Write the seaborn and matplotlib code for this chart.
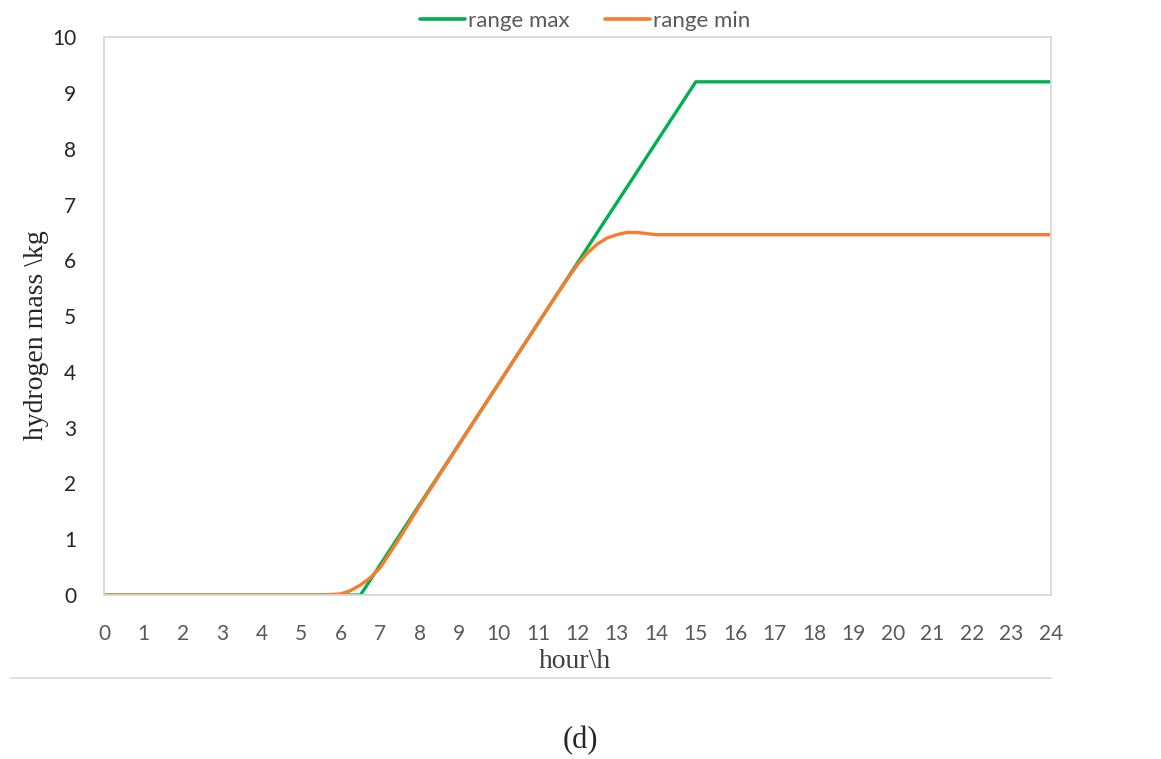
import numpy as np
import pandas as pd
import matplotlib.pyplot as plt
import seaborn as sns
from matplotlib.lines import Line2D

# values
max_hours = [0, 6.5, 15, 24]
max_mass = [0, 0, 9.2, 9.2]

min_hours = [0, 1, 2, 3, 4, 5, 5.5, 6.0, 6.25, 6.5, 6.75, 7.0, 7.5, 8, 9, 10, 11, 11.5,
             11.75, 12, 12.25, 12.5, 12.75, 13, 13.25, 13.5, 13.75, 14, 15, 16, 17, 18,
             19, 20, 21, 22, 23, 24]
min_mass = [0, 0, 0, 0, 0, 0, 0, 0.02, 0.08, 0.18, 0.31, 0.49, 1.03, 1.6, 2.7, 3.79, 4.87,
            5.41, 5.67, 5.92, 6.13, 6.29, 6.40, 6.46, 6.50, 6.50, 6.48, 6.46, 6.46, 6.46,
            6.46, 6.46, 6.46, 6.46, 6.46, 6.46, 6.46, 6.46]

series_names = ["range max", "range min"]
x_ticks = list(range(0, 25))
y_ticks = list(range(0, 11))

df = pd.concat([
    pd.DataFrame({"hour": max_hours, "mass": max_mass, "series": series_names[0]}),
    pd.DataFrame({"hour": min_hours, "mass": min_mass, "series": series_names[1]}),
])

sns.set_theme(style="white")
plt.rcParams["font.family"] = ["Lato", "DejaVu Sans"]

fig = plt.figure(figsize=(11.61, 7.59), dpi=100)
ax = fig.add_axes([0.0896, 0.216, 0.8155, 0.735])

palette = {"range max": "#00B050", "range min": "#F97B2E"}
sns.lineplot(data=df, x="hour", y="mass", hue="series", palette=palette,
             linewidth=2.4, ax=ax, sort=False, legend=False)

ax.set_xlim(0, 24)
ax.set_ylim(0, 10)
ax.set_xticks(x_ticks)
ax.set_yticks(y_ticks)
ax.tick_params(axis="both", length=0, labelsize=15, labelcolor="#595959")
ax.tick_params(axis="x", pad=21)
ax.tick_params(axis="y", pad=20, labelcolor="#262626")
for s in ax.spines.values():
    s.set_color("#D9D9D9")
    s.set_linewidth(1.3)

ax.set_xlabel("hour\\h", family="Liberation Serif", fontsize=20, color="#404040")
ax.set_ylabel("hydrogen mass \\kg", family="Liberation Serif", fontsize=20, color="#262626")
ax.xaxis.set_label_coords(0.497, -0.097)
ax.yaxis.set_label_coords(-0.058, 0.466)

handles = [Line2D([], [], color=palette[n], linewidth=2.6) for n in series_names]
fig.legend(handles, series_names, loc="center", bbox_to_anchor=(0.504, 0.972), ncol=2,
           frameon=False, fontsize=16, labelcolor="#595959", handlelength=2.0,
           handletextpad=0.15, columnspacing=1.6)

fig.add_artist(Line2D([0.009, 0.905], [0.107, 0.107], color="#D9D9D9", linewidth=1.2))
fig.text(0.5, 0.024, "(d)", family="Liberation Serif", fontsize=22, ha="center", va="center")

fig.savefig("out.png", dpi=100)
